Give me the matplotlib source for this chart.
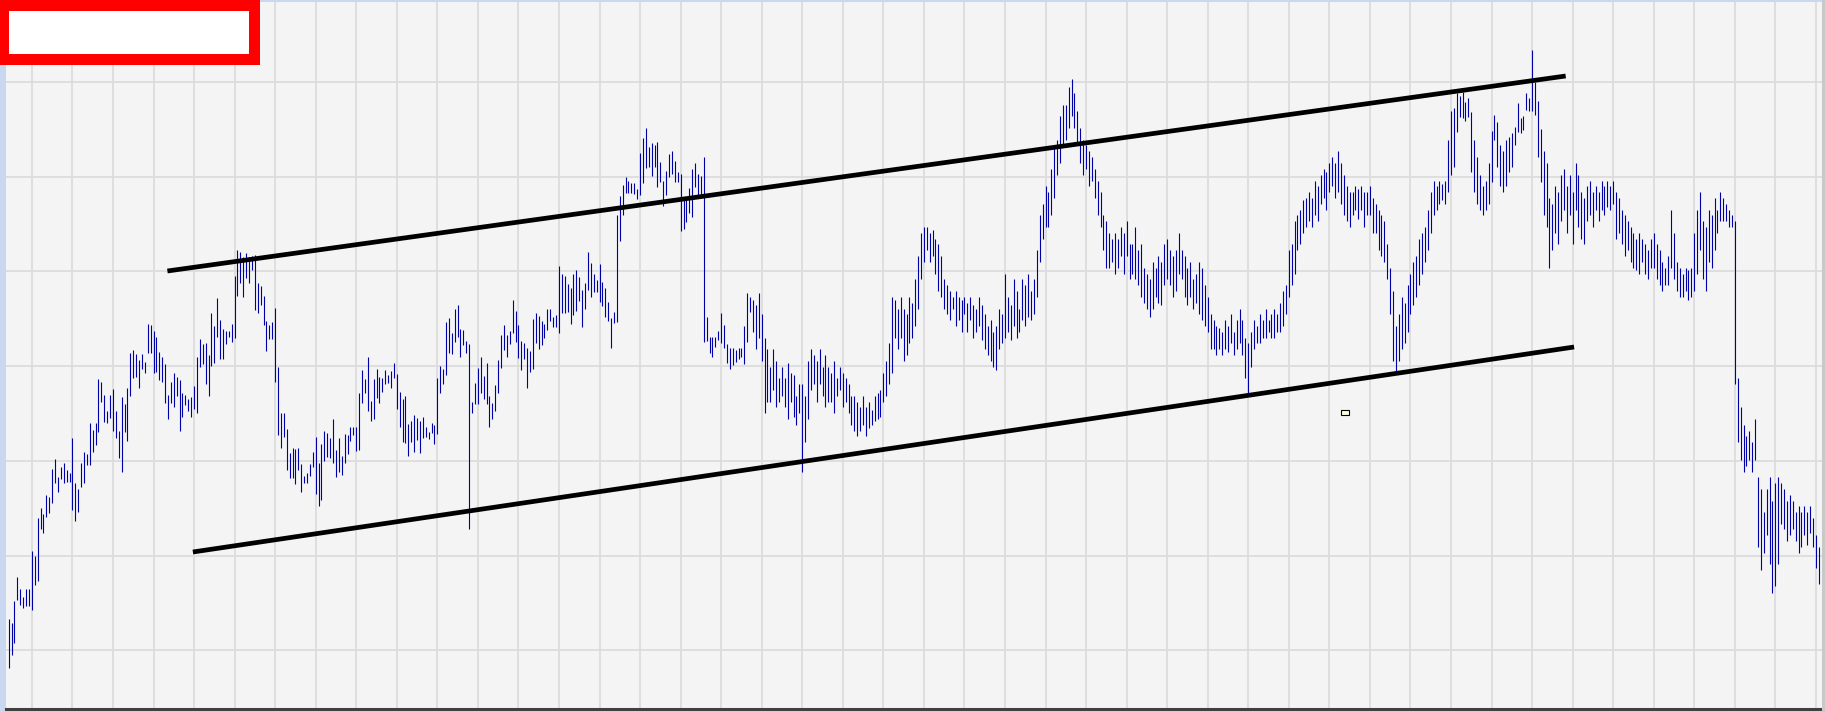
####################################################################################
# Imports

import numpy as np
import matplotlib
matplotlib.use("Agg")
import matplotlib.pyplot as plt
from matplotlib.patches import Rectangle

####################################################################################
# Data (price units are arbitrary, the chart has no axis labels)

bar_high = [93, 89, 111, 135, 123, 115, 123, 123, 161, 156, 194, 204, 198, 217, 215, 243, 253, 235, 245, 249,
            242, 239, 274, 229, 223, 249, 260, 258, 289, 282, 289, 333, 330, 317, 301, 317, 323, 301, 281, 315,
            308, 324, 359, 362, 358, 352, 358, 350, 388, 387, 381, 375, 360, 355, 348, 317, 330, 339, 335, 332,
            319, 317, 313, 315, 326, 355, 373, 368, 369, 357, 399, 386, 414, 392, 383, 381, 381, 388, 436, 462,
            460, 455, 459, 455, 456, 457, 429, 426, 416, 391, 387, 390, 404, 345, 299, 299, 283, 259, 264, 263,
            264, 248, 236, 239, 248, 260, 275, 249, 268, 281, 279, 274, 293, 262, 274, 256, 278, 277, 285, 285,
            285, 319, 342, 333, 355, 311, 333, 343, 335, 334, 342, 337, 341, 349, 338, 320, 313, 316, 288, 291,
            297, 294, 291, 295, 285, 280, 289, 287, 334, 346, 343, 390, 394, 379, 403, 407, 383, 382, 371, 368,
            310, 329, 344, 355, 336, 349, 316, 309, 327, 352, 377, 387, 377, 381, 412, 401, 387, 371, 369, 364,
            361, 393, 399, 396, 391, 388, 403, 403, 395, 397, 446, 438, 436, 428, 424, 438, 442, 435, 422, 429,
            460, 449, 438, 432, 448, 430, 424, 410, 394, 400, 497, 516, 527, 535, 531, 529, 529, 523, 559, 574,
            584, 565, 569, 567, 570, 550, 531, 541, 558, 561, 551, 540, 538, 514, 515, 524, 543, 549, 538, 536,
            555, 395, 375, 375, 375, 381, 399, 387, 368, 364, 364, 362, 364, 364, 386, 419, 415,
            412, 407, 419, 398, 374, 363, 345, 363, 351, 334, 345, 334, 349, 339, 337, 316, 328, 328, 316, 351,
            363, 357, 351, 363, 345, 357, 345, 339, 351, 334, 345, 339, 334, 328, 316, 316, 310, 305, 316, 305,
            310, 302, 316, 319, 322, 339, 351, 369, 415, 412, 403, 415, 403, 398, 415, 409, 433, 456, 479, 485,
            485, 479, 482, 473, 468, 456, 433, 427, 421, 415, 421, 415, 412, 415, 409, 415, 407, 403, 415, 407,
            398, 386, 392, 380, 386, 403, 398, 438, 415, 407, 433, 421, 403, 433, 427, 438, 421, 433, 462, 497,
            508, 526, 520, 543, 567, 572, 596, 607, 607, 625, 633, 619, 601, 584, 572, 567, 561, 555, 543, 531,
            520, 497, 491, 479, 473, 479, 473, 485, 479, 491, 468, 468, 485, 462, 468, 444, 438, 433, 450, 444,
            456, 450, 468, 473, 462, 456, 462, 479, 462, 456, 444, 450, 433, 438, 450, 444, 427, 415, 398, 392,
            386, 384, 380, 392, 386, 398, 380, 392, 403, 392, 374, 369, 380, 392, 386, 398, 392, 403, 392, 398,
            403, 398, 409, 421, 427, 462, 468, 491, 497, 502, 512, 514, 520, 514, 531, 526, 537, 543, 540, 549,
            555, 549, 561, 549, 537, 526, 520, 520, 526, 523, 526, 520, 520, 526, 514, 508, 502, 497, 491, 468,
            444, 421, 386, 398, 415, 409, 427, 438, 450, 456, 473, 479, 485, 502, 520, 531, 526, 531, 528, 531,
            572, 601, 604, 619, 616, 620, 610, 614, 600, 572, 555, 537, 526, 531, 549, 581, 597, 590, 567, 561,
            572, 575, 579, 585, 609, 594, 596, 619, 614, 662, 630, 611, 583, 561, 549, 514, 508, 526, 520, 537,
            543, 526, 537, 520, 549, 537, 520, 514, 526, 531, 520, 526, 520, 531, 526, 531, 526, 531, 520, 514,
            502, 497, 491, 485, 479, 473, 479, 473, 468, 462, 473, 479, 468, 462, 450, 444, 456, 502, 479, 450,
            444, 438, 444, 442, 444, 479, 502, 520, 491, 485, 502, 497, 514, 502, 520, 514, 508, 502, 497, 491,
            334, 305, 287, 276, 281, 270, 293, 235, 223, 200, 223, 235, 211, 229, 235, 229, 223, 211, 217, 211,
            200, 206, 200, 206, 200, 206, 194, 177, 165]

bar_low = [44, 57, 69, 112, 107, 104, 106, 106, 102, 127, 131, 183, 179, 195, 199, 209, 229, 220, 233, 229,
           230, 230, 202, 191, 200, 225, 229, 247, 247, 260, 267, 280, 310, 290, 289, 294, 281, 274, 254, 240,
           280, 271, 316, 334, 335, 324, 343, 339, 359, 359, 339, 340, 332, 330, 309, 293, 309, 305, 316, 281,
           295, 307, 301, 295, 303, 299, 345, 348, 328, 316, 346, 349, 375, 353, 353, 368, 375, 370, 374, 416,
           429, 415, 434, 429, 442, 402, 399, 407, 387, 361, 373, 373, 330, 277, 264, 275, 242, 234, 234, 228,
           242, 220, 229, 229, 236, 245, 218, 206, 212, 251, 255, 254, 249, 235, 240, 237, 249, 258, 271, 277,
           261, 262, 309, 319, 301, 291, 293, 314, 309, 320, 328, 329, 324, 334, 303, 285, 270, 269, 256, 270,
           260, 272, 259, 274, 275, 273, 279, 268, 278, 319, 328, 337, 359, 358, 370, 375, 355, 367, 359, 183,
           299, 308, 308, 319, 313, 308, 285, 293, 301, 319, 344, 362, 355, 368, 379, 370, 354, 342, 353, 324,
           340, 343, 369, 363, 367, 374, 382, 391, 385, 385, 379, 399, 399, 400, 388, 397, 401, 411, 385, 403,
           422, 415, 420, 420, 410, 406, 395, 391, 364, 389, 390, 471, 497, 519, 519, 519, 518, 513, 517, 529,
           544, 545, 536, 545, 525, 530, 506, 517, 535, 538, 530, 530, 481, 483, 490, 499, 495, 525, 515, 515,
           370, 371, 359, 355, 365, 372, 369, 364, 349, 343, 347, 350, 353, 355, 348, 370, 400,
           380, 363, 374, 351, 299, 310, 310, 322, 305, 310, 316, 305, 293, 310, 295, 287, 299, 240, 270, 293,
           322, 328, 310, 328, 316, 305, 310, 310, 299, 316, 322, 305, 310, 299, 287, 281, 276, 281, 287, 276,
           284, 287, 291, 293, 295, 310, 316, 328, 339, 374, 363, 374, 351, 357, 369, 374, 386, 403, 433, 450,
           462, 450, 456, 438, 421, 415, 403, 398, 392, 403, 386, 392, 380, 398, 380, 392, 374, 380, 386, 372,
           363, 357, 351, 345, 342, 363, 369, 374, 380, 372, 386, 374, 380, 392, 386, 395, 392, 398, 415, 450,
           473, 485, 485, 497, 514, 537, 549, 567, 572, 584, 596, 584, 567, 549, 537, 543, 526, 531, 514, 497,
           485, 462, 444, 444, 450, 438, 444, 456, 438, 456, 433, 438, 433, 427, 415, 409, 403, 395, 403, 415,
           409, 407, 427, 433, 427, 415, 421, 438, 433, 415, 407, 415, 403, 409, 398, 392, 386, 380, 363, 363,
           357, 363, 357, 363, 360, 369, 357, 363, 369, 357, 334, 316, 345, 363, 369, 369, 374, 374, 380, 374,
           374, 380, 380, 386, 398, 415, 427, 438, 462, 468, 479, 485, 491, 485, 497, 491, 508, 514, 502, 520,
           526, 514, 520, 508, 497, 491, 485, 497, 502, 493, 502, 485, 497, 497, 479, 479, 462, 456, 450, 433,
           398, 351, 339, 351, 363, 369, 380, 398, 407, 415, 427, 438, 450, 462, 479, 497, 502, 508, 512, 508,
           520, 537, 545, 580, 595, 594, 591, 595, 540, 520, 508, 502, 497, 502, 508, 530, 572, 545, 526, 520,
           526, 540, 545, 567, 580, 579, 582, 602, 601, 601, 597, 555, 530, 497, 485, 444, 462, 479, 468, 491,
           502, 479, 497, 468, 502, 485, 473, 468, 491, 497, 485, 502, 491, 502, 497, 505, 502, 508, 473, 479,
           468, 456, 462, 450, 444, 442, 438, 450, 438, 433, 444, 444, 433, 427, 421, 427, 427, 444, 433, 421,
           415, 415, 421, 412, 415, 421, 438, 462, 433, 421, 450, 444, 462, 479, 491, 491, 491, 485, 485, 328,
           270, 252, 240, 246, 252, 240, 252, 165, 142, 159, 177, 148, 119, 126, 148, 188, 183, 171, 177, 183,
           171, 159, 165, 177, 167, 179, 165, 144, 128]

# trend lines: (bar index, price) at both ends
upper_line_x = [54.8, 537.6]
upper_line_y = [441, 636]
lower_line_x = [63.6, 540.5]
lower_line_y = [160, 365]

# small marker box
marker_box = (460.0, 297.0, 2.7, 5.0)

n_bars_total = 626

####################################################################################
# Plot

fig = plt.figure(figsize=(18.25, 7.12), dpi=100, facecolor="#C9D8F0")
ax = fig.add_axes([6 / 1825, 3 / 712, 1816 / 1825, 707 / 712])
ax.set_facecolor("#F4F4F4")

idx = np.arange(len(bar_high))
ax.vlines(idx, bar_low, bar_high, color="#0000A8", lw=0.8)

ax.plot(upper_line_x, upper_line_y, color="black", lw=3.4, solid_capstyle="butt")
ax.plot(lower_line_x, lower_line_y, color="black", lw=3.4, solid_capstyle="butt")

ax.add_patch(Rectangle(marker_box[:2], marker_box[2], marker_box[3],
                       facecolor="#FFFFE0", edgecolor="black", lw=0.8))

ax.set_xlim(-0.93, 626.1)
ax.set_ylim(3, 710)

ax.set_xticks(np.arange(8, n_bars_total, 14))
ax.set_yticks(61.8 + 94.7 * np.arange(7))
ax.grid(color="#DCDCDC", lw=1.3)
ax.set_axisbelow(True)
ax.tick_params(length=0, labelbottom=False, labelleft=False)

for s in ["left", "top", "right"]:
    ax.spines[s].set_visible(False)
ax.spines["bottom"].set_color("#404040")
ax.spines["bottom"].set_linewidth(2.2)

# right edge strip
fig.patches.append(Rectangle((1822 / 1825, 0), 3 / 1825, 1, transform=fig.transFigure,
                             facecolor="#C8C8C8", edgecolor="none", zorder=5))

# red box at top left
fig.patches.append(Rectangle((0, 1 - 65 / 712), 260 / 1825, 65 / 712, transform=fig.transFigure,
                             facecolor="#FF0000", edgecolor="none", zorder=10))
fig.patches.append(Rectangle((9 / 1825, 1 - 54 / 712), 240 / 1825, 43 / 712, transform=fig.transFigure,
                             facecolor="white", edgecolor="none", zorder=11))

plt.savefig("out.png", dpi=100)
